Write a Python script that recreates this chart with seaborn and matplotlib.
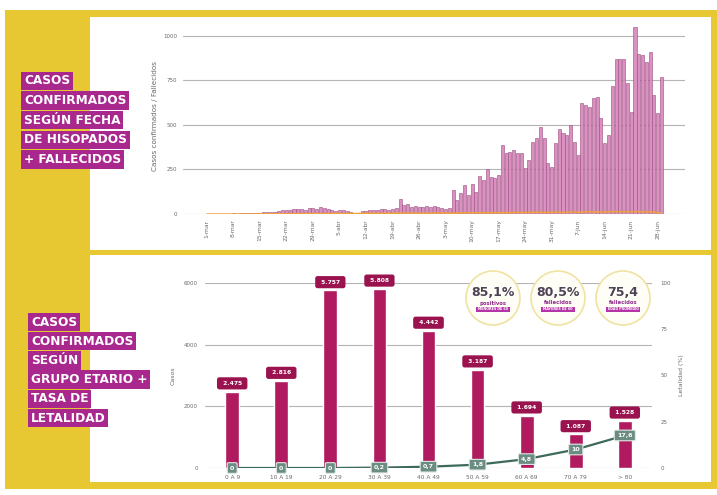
import numpy as np
import pandas as pd
import matplotlib
matplotlib.use("Agg")
import matplotlib.pyplot as plt
import seaborn as sns
from matplotlib.patches import Rectangle, Circle

sns.set_theme(style="white")
plt.rcParams['font.family'] = ['DejaVu Sans']

# ---------------- data ----------------
fecha_labels = ["1-mar", "8-mar", "15-mar", "22-mar", "29-mar", "5-abr", "12-abr", "19-abr",
                "26-abr", "3-may", "10-may", "17-may", "24-may", "31-may", "7-jun", "14-jun",
                "21-jun", "28-jun"]
casos_diarios = [0, 0, 0, 0, 0, 0,
                 2, 3, 2, 4, 3, 5, 6,
                 8, 7, 10, 12, 11, 14, 16,
                 22, 25, 20, 28, 30, 26, 24,
                 32, 36, 30, 38, 34, 28, 22,
                 18, 20, 25, 16, 12, 8, 6,
                 15, 18, 22, 20, 24, 26,
                 28, 25, 30, 32,
                 82,
                 48, 55, 42, 46,
                 40, 42, 45, 38, 44, 40, 36, 30, 34,
                 135, 78, 117, 163, 107, 168, 124, 213, 191, 253,
                 208, 202, 219, 388, 343, 348, 360, 343, 343, 258,
                 303, 404, 427, 489, 427, 286, 264, 399, 477, 455,
                 444, 500, 404, 331, 624, 612, 601, 652, 657, 539,
                 399, 444, 719, 871, 871, 871, 736, 573, 1050, 899,
                 893, 854, 910, 669, 567, 770]
fallecidos_diarios = [0] * 13 + \
    [0, 1, 0, 1, 1, 0, 2, 1, 1, 2, 1, 3, 2, 1, 2, 3, 2, 1] + \
    [2, 3, 2, 4, 3, 2, 3, 4, 2, 3, 4, 3, 5, 4, 3, 4, 5, 3, 4, 5] + \
    [4, 5, 6, 4, 5, 3, 6, 5, 4, 6, 5, 7, 6, 5, 4, 6, 7, 5, 6, 8] + \
    [7, 6, 8, 5, 7, 9, 6, 8, 7, 9, 8, 10, 7, 9, 8, 10, 9, 11, 8, 10] + \
    [9, 11, 10, 8, 12, 10, 11, 9, 12, 11, 13, 10, 12, 11, 9, 13, 12, 14, 11, 13,
     12, 10, 14, 13, 12, 11, 13, 10, 8, 5]

grupos = ["0 A 9", "10 A 19", "20 A 29", "30 A 39", "40 A 49", "50 A 59", "60 A 69", "70 A 79", "> 80"]
casos_grupo = [2475, 2816, 5757, 5808, 4442, 3187, 1694, 1087, 1528]
letalidad = [0, 0, 0, 0.2, 0.7, 1.8, 4.8, 10, 17.6]

stat_values = ["85,1%", "80,5%", "75,4"]
stat_labels = ["positivos", "fallecidos", "fallecidos"]
stat_tags = ["MENORES DE 60", "MAYORES DE 60", "EDAD PROMEDIO"]

titulo_sup = ["CASOS", "CONFIRMADOS", "SEGÚN FECHA", "DE HISOPADOS", "+ FALLECIDOS"]
titulo_inf = ["CASOS", "CONFIRMADOS", "SEGÚN", "GRUPO ETARIO +", "TASA DE", "LETALIDAD"]

# ---------------- styles ----------------
W, H = 717, 495
YELLOW = "#e8c832"
MAGENTA = "#a8288e"
BAR_TOP = "#da90c0"
BAR_EDGE = "#9a4a7c"
ORANGE = "#f0a23a"
BAR_BOT = "#b01a5e"
LABEL_BOX = "#9a134f"
LINE_C = "#3e6a5c"
LINE_BOX = "#6b8c82"
GRID = "#b4b4b4"
TXT = "#6a6a6a"

fig = plt.figure(figsize=(W / 100, H / 100), dpi=100)
fig.patch.set_facecolor("white")


def px(l, t, r, b):
    return [l / W, 1 - b / H, (r - l) / W, (b - t) / H]


bg = fig.add_axes([0, 0, 1, 1], zorder=0)
bg.set_xlim(0, W)
bg.set_ylim(H, 0)
bg.axis("off")
for (x, y, w, h) in [(5, 10, 85, 479), (5, 10, 712, 7), (711, 10, 6, 479),
                     (90, 250, 627, 5), (5, 482, 712, 7)]:
    bg.add_patch(Rectangle((x, y), w, h, color=YELLOW, lw=0))

# left title boxes
for i, t in enumerate(titulo_sup):
    bg.text(24, 81 + i * 19.6, t, ha="left", va="center", fontsize=8.7, fontweight="bold",
            color="white", bbox=dict(boxstyle="square,pad=0.22", fc=MAGENTA, ec="none"))
for i, t in enumerate(titulo_inf):
    bg.text(31, 322 + i * 19.2, t, ha="left", va="center", fontsize=8.7, fontweight="bold",
            color="white", bbox=dict(boxstyle="square,pad=0.22", fc=MAGENTA, ec="none"))

# ---------------- top chart ----------------
n = len(casos_diarios)
df1 = pd.DataFrame({"dia": np.arange(n), "casos": casos_diarios, "fallecidos": fallecidos_diarios})
ax1 = fig.add_axes(px(183, 18, 685, 214), zorder=2)
ax1.set_facecolor("none")
sns.barplot(data=df1, x="dia", y="casos", color=BAR_TOP, saturation=1, width=0.8,
            edgecolor=BAR_EDGE, linewidth=0.4, ax=ax1)
sns.lineplot(data=df1, x="dia", y="fallecidos", color=ORANGE, linewidth=1.1, ax=ax1)
ax1.set_xlim(-6.3, 126.2)
ax1.set_ylim(0, 1100)
ax1.set_yticks([0, 250, 500, 750, 1000])
ax1.set_yticklabels(["0", "250", "500", "750", "1000"], fontsize=4, color=TXT)
ax1.set_xticks(np.arange(0, n, 7))
ax1.set_xticklabels(fecha_labels, rotation=90, fontsize=4.3, color=TXT)
ax1.tick_params(length=0, pad=4)
ax1.yaxis.grid(True, color=GRID, lw=0.8)
ax1.set_axisbelow(True)
for s in ax1.spines.values():
    s.set_visible(False)
ax1.set_xlabel("")
ax1.set_ylabel("Casos confirmados / Fallecidos", fontsize=5.2, color=TXT, labelpad=4)

# ---------------- bottom chart ----------------
df2 = pd.DataFrame({"grupo": grupos, "casos": casos_grupo, "letalidad": letalidad})
ax2 = fig.add_axes(px(205, 283, 652, 468), zorder=2)
ax2.set_facecolor("none")
sns.barplot(data=df2, x="grupo", y="casos", color=BAR_BOT, saturation=1, width=0.28, ax=ax2)
ax2.set_ylim(0, 6000)
ax2.set_yticks([0, 2000, 4000, 6000])
ax2.set_yticklabels(["0", "2000", "4000", "6000"], fontsize=4, color=TXT)
ax2.tick_params(length=0, pad=5)
ax2.set_xticks(range(len(grupos)))
ax2.set_xticklabels(grupos, fontsize=4.2, color=TXT)
ax2.yaxis.grid(True, color=GRID, lw=0.8)
ax2.set_axisbelow(True)
for s in ax2.spines.values():
    s.set_visible(False)
ax2.set_xlabel("")
ax2.set_ylabel("Casos", fontsize=4.5, color=TXT, labelpad=6)
for i, v in enumerate(casos_grupo):
    lbl = f"{v:,}".replace(",", ".")
    ax2.annotate(f" {lbl} ", (i, v), xytext=(0, 6), textcoords="offset points",
                 ha="center", va="center", fontsize=4.3, fontweight="bold", color="white",
                 annotation_clip=False,
                 bbox=dict(boxstyle="round,pad=0.6,rounding_size=0.4", fc=LABEL_BOX, ec="none"))

ax3 = ax2.twinx()
ax3.set_zorder(3)
sns.lineplot(data=df2.assign(pos=np.arange(len(grupos))), x="pos", y="letalidad",
             color=LINE_C, linewidth=1.6, ax=ax3)
ax3.set_ylim(0, 100)
ax3.set_yticks([0, 25, 50, 75, 100])
ax3.set_yticklabels(["0", "25", "50", "75", "100"], fontsize=4, color=TXT)
ax3.tick_params(length=0, pad=6)
for s in ax3.spines.values():
    s.set_visible(False)
ax3.set_ylabel("Letalidad (%)", fontsize=4.5, color=TXT, labelpad=6)
ax3.set_xlabel("")
for i, v in enumerate(letalidad):
    lbl = "0" if v == 0 else (f"{v:g}".replace(".", ","))
    ax3.annotate(lbl, (i, v), xytext=(0, 0), textcoords="offset points",
                 ha="center", va="center", fontsize=4.5, fontweight="bold", color="white",
                 annotation_clip=False,
                 bbox=dict(boxstyle="round,pad=0.45,rounding_size=0.2", fc=LINE_BOX,
                           ec="#dfe9e4", lw=0.8))

# ---------------- stat circles ----------------
ov = fig.add_axes([0, 0, 1, 1], zorder=5)
ov.set_xlim(0, W)
ov.set_ylim(H, 0)
ov.set_facecolor("none")
ov.axis("off")
for k, cx in enumerate([493, 558, 623]):
    cy = 298
    ov.add_patch(Circle((cx, cy), 27, fc="#fffef6", ec="#efe3a2", lw=1.2))
    ov.text(cx, cy - 6, stat_values[k], ha="center", va="center", fontsize=9,
            fontweight="bold", color="#4d4256")
    ov.text(cx, cy + 5, stat_labels[k], ha="center", va="center", fontsize=3.8,
            fontweight="bold", color="#8e2a8a")
    ov.add_patch(Rectangle((cx - 17, cy + 8.5), 34, 5, color="#b535a8", lw=0))
    ov.text(cx, cy + 11, stat_tags[k], ha="center", va="center", fontsize=2.4,
            color="white", fontweight="bold")

fig.savefig("out.png", dpi=100, facecolor="white")
